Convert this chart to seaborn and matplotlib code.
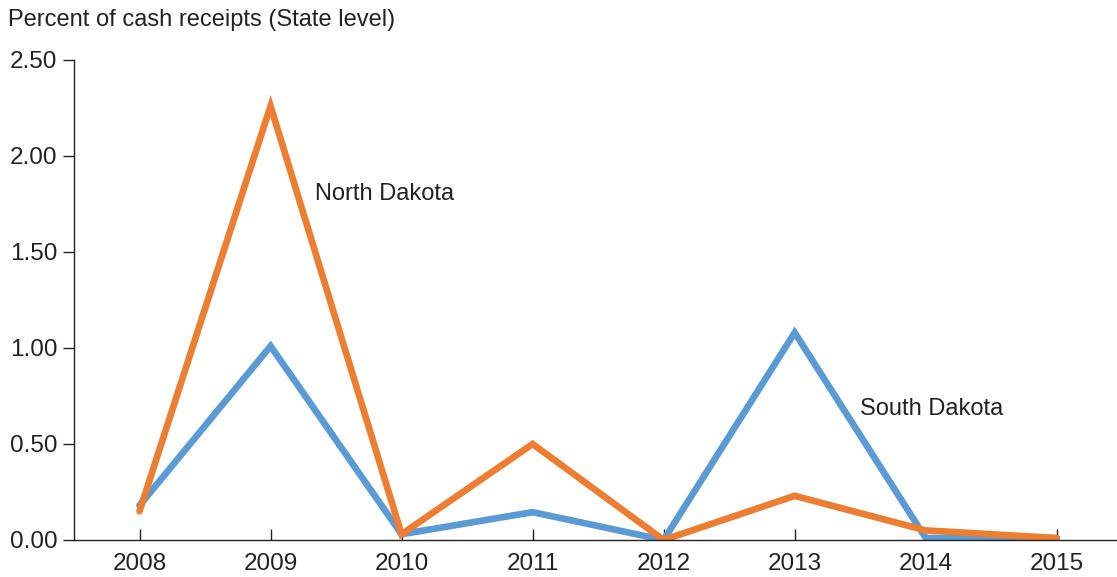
import matplotlib
matplotlib.use("Agg")
import matplotlib.pyplot as plt
import seaborn as sns
import pandas as pd

years = [2008, 2009, 2010, 2011, 2012, 2013, 2014, 2015]
south_dakota = [0.18, 1.01, 0.03, 0.145, 0.0, 1.08, 0.01, 0.01]
north_dakota = [0.15, 2.26, 0.03, 0.50, 0.0, 0.23, 0.05, 0.01]
series_names = ["South Dakota", "North Dakota"]
y_ticks = [0.0, 0.5, 1.0, 1.5, 2.0, 2.5]

sns.set_theme(style="white")
plt.rcParams['font.family'] = ['Liberation Sans', 'DejaVu Sans']

df = pd.DataFrame({
    "year": years * 2,
    "value": south_dakota + north_dakota,
    "state": [series_names[0]] * len(years) + [series_names[1]] * len(years),
})

fig = plt.figure(figsize=(11.17, 5.77), dpi=100)
ax = fig.add_axes([74/1117, 1 - 540/577, 1 - 74/1117, (540 - 60)/577])

palette = {"South Dakota": "#5B9BD5", "North Dakota": "#ED7D31"}
sns.lineplot(data=df, x="year", y="value", hue="state", palette=palette,
             linewidth=4.8, ax=ax, legend=False)
for line in ax.lines:
    line.set_solid_capstyle("round")
    line.set_solid_joinstyle("miter")

ax.set_xlim(2007.5, 2015.46)
ax.set_ylim(0, 2.5)
ax.set_xticks(years)
ax.set_xticklabels([str(y) for y in years], fontsize=17.5, color="#222222")
ax.set_yticks(y_ticks)
ax.set_yticklabels([f"{v:.2f}" for v in y_ticks], fontsize=17.5, color="#222222")
ax.set_xlabel("")
ax.set_ylabel("")

for s in ["top", "right"]:
    ax.spines[s].set_visible(False)
for s in ["left", "bottom"]:
    ax.spines[s].set_color("#222222")
    ax.spines[s].set_linewidth(1.0)

ax.tick_params(axis="y", direction="out", length=8, width=1, color="#222222", pad=4, left=True)
ax.tick_params(axis="x", direction="in", length=8, width=1, color="#222222", pad=9, bottom=True)
ax.grid(False)

ax.text(2009.34, 1.80, "North Dakota", fontsize=17, color="#222222", va="center", ha="left")
ax.text(2013.5, 0.68, "South Dakota", fontsize=17, color="#222222", va="center", ha="left")

fig.text(8/1117, 1 - 20/577, "Percent of cash receipts (State level)", fontsize=17,
         color="#222222", va="center", ha="left")

fig.savefig("out.png", dpi=100)
